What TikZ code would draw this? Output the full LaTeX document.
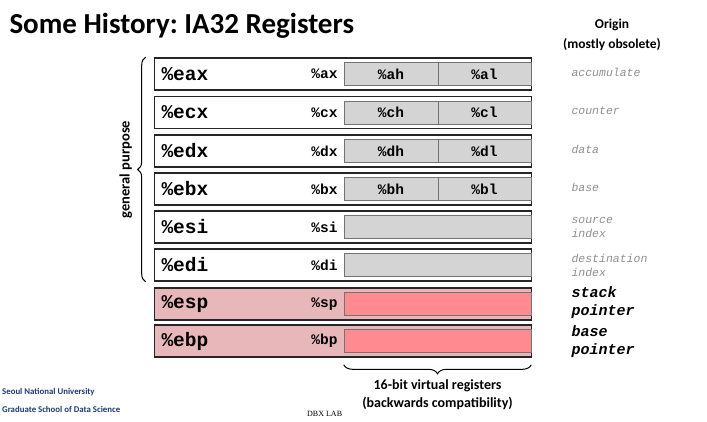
\documentclass[tikz,border=0pt]{standalone}
\usepackage{fontspec}
\setmainfont{Carlito}
\setmonofont{Liberation Mono}
\newfontfamily\labfont{Liberation Serif}
\usetikzlibrary{positioning,decorations.pathreplacing}

\definecolor{halfgray}{HTML}{D4D4D4}
\definecolor{spbg}{HTML}{E8B7B9}
\definecolor{spred}{HTML}{FF8A8F}
\definecolor{origgray}{HTML}{8E8E8E}
\definecolor{snunavy}{HTML}{1F3A78}

\frenchspacing
\begin{document}
\begin{tikzpicture}[
    x=1pt, y=-1pt,
    reg/.style={
      draw=black!85,
      line width=1.6pt,
      minimum width=377pt,
      minimum height=32pt,
      inner sep=0pt
    },
    half/.style={
      draw=black!55,
      line width=0.6pt,
      fill=halfgray,
      minimum height=23pt,
      inner sep=0pt,
      font=\fontsize{14.5}{16}\selectfont\ttfamily\bfseries
    },
    bigname/.style={anchor=west, font=\fontsize{19.5}{22}\selectfont\ttfamily\bfseries},
    smallname/.style={anchor=east, font=\fontsize{14.5}{16}\selectfont\ttfamily\bfseries},
    origin/.style={anchor=west, align=left, text=origgray,
      font=\fontsize{11.5}{14}\selectfont\ttfamily\itshape},
    originbold/.style={anchor=west, align=left,
      font=\fontsize{15}{18}\selectfont\ttfamily\bfseries\itshape},
    brace/.style={decorate, line width=1pt}
  ]
    \useasboundingbox (0,0) rectangle (707,422);

    \node[anchor=base west, font=\fontsize{29}{32}\selectfont\bfseries] (title) at (6,34) {Some History: IA32 Registers};
    \node[align=center, font=\fontsize{13.5}{20}\selectfont\bfseries] (origin) at (612,35) {Origin\\(mostly obsolete)};

    % general purpose registers
    \node[reg, fill=white] (eax) at (343,74) {};
    \node[reg, fill=white] (ecx) at (343,112.5) {};
    \node[reg, fill=white] (edx) at (343,151) {};
    \node[reg, fill=white] (ebx) at (343,189) {};
    \node[reg, fill=white] (esi) at (343,227) {};
    \node[reg, fill=white] (edi) at (343,265) {};
    \node[reg, fill=spbg] (esp) at (343,304) {};
    \node[reg, fill=spbg] (ebp) at (343,341) {};

    \node[half, minimum width=94pt] (ah) at (391,74) {\%ah};
    \node[half, minimum width=93pt] (al) at (484.5,74) {\%al};
    \node[half, minimum width=94pt] (ch) at (391,112.5) {\%ch};
    \node[half, minimum width=93pt] (cl) at (484.5,112.5) {\%cl};
    \node[half, minimum width=94pt] (dh) at (391,151) {\%dh};
    \node[half, minimum width=93pt] (dl) at (484.5,151) {\%dl};
    \node[half, minimum width=94pt] (bh) at (391,189) {\%bh};
    \node[half, minimum width=93pt] (bl) at (484.5,189) {\%bl};
    \node[half, minimum width=187pt] (si16) at (437.5,227) {};
    \node[half, minimum width=187pt] (di16) at (437.5,265) {};
    \node[half, minimum width=187pt, fill=spred] (sp16) at (437.5,304) {};
    \node[half, minimum width=187pt, fill=spred] (bp16) at (437.5,341) {};

    \node[bigname] (eaxname) at (158,74) {\%eax};
    \node[bigname] (ecxname) at (158,112.5) {\%ecx};
    \node[bigname] (edxname) at (158,151) {\%edx};
    \node[bigname] (ebxname) at (158,189) {\%ebx};
    \node[bigname] (esiname) at (158,227) {\%esi};
    \node[bigname] (ediname) at (158,265) {\%edi};
    \node[bigname] (espname) at (158,304) {\%esp};
    \node[bigname] (ebpname) at (158,341) {\%ebp};

    \node[smallname] (axname) at (341,74) {\%ax};
    \node[smallname] (cxname) at (341,112.5) {\%cx};
    \node[smallname] (dxname) at (341,151) {\%dx};
    \node[smallname] (bxname) at (341,189) {\%bx};
    \node[smallname] (siname) at (341,227) {\%si};
    \node[smallname] (diname) at (341,265) {\%di};
    \node[smallname] (spname) at (341,304) {\%sp};
    \node[smallname] (bpname) at (341,341) {\%bp};

    % where the names come from
    \node[origin] (acc) at (568,72) {accumulate};
    \node[origin] (cnt) at (568,110.5) {counter};
    \node[origin] (dat) at (568,149) {data};
    \node[origin] (bas) at (568,187) {base};
    \node[origin] (src) at (568,227) {source\\index};
    \node[origin] (dst) at (568,265) {destination\\index};
    \node[originbold] (stk) at (568,303) {stack\\pointer};
    \node[originbold] (bsp) at (568,342) {base\\pointer};

    % braces
    \draw[brace, decoration={brace, amplitude=8pt}]
      ([xshift=-8pt]edi.south west) -- ([xshift=-8pt]eax.north west)
      node[midway, left=20pt, rotate=90, anchor=center, font=\fontsize{14.5}{16}\selectfont\bfseries] (gp) {general purpose};
    \draw[brace, decoration={brace, amplitude=9pt}]
      ([yshift=-12pt]bp16.south east) -- ([yshift=-12pt]bp16.south west)
      node[midway, below=11pt, align=center, font=\fontsize{14}{18}\selectfont\bfseries] (virt) {16-bit virtual registers\\(backwards compatibility)};

    \node[anchor=north west, align=left, text=snunavy, inner sep=0pt,
      font=\fontsize{8.8}{18}\selectfont\bfseries] (snu) at (2,388) {Seoul National University\\Graduate School of Data Science};
    \node[anchor=base west, inner sep=0pt, font=\fontsize{8}{9}\selectfont\labfont] (dbx) at (307,416) {DBX LAB};
  \end{tikzpicture}
\end{document}
